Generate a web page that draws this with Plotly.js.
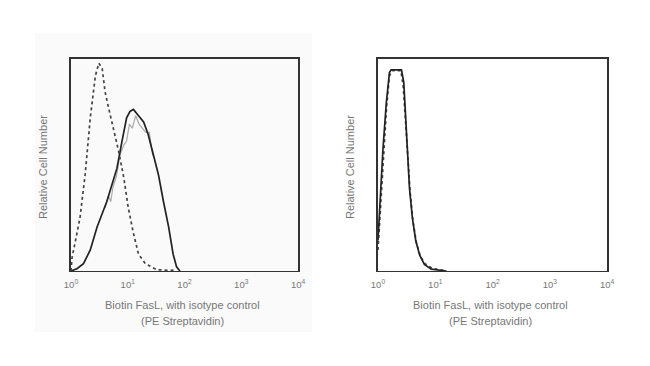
<!DOCTYPE html>
<html><head><meta charset="utf-8">
<script src="https://cdn.plot.ly/plotly-3.0.1.min.js"></script>
<style>html,body{margin:0;padding:0;background:#fff}#chart{width:650px;height:366px}</style>
</head><body><div id="chart"></div>
<script>
// log10 fluorescence positions and relative cell counts
const leftIsoLog = [0.0,0.02,0.08,0.16,0.25,0.34,0.43,0.49,0.55,0.60,0.66,0.75,0.84,0.93,1.01,1.10,1.19,1.31,1.51,1.75,1.86];
const leftIsoVal = [0.0,0.066,0.145,0.256,0.46,0.73,0.93,0.99,0.965,0.855,0.78,0.68,0.57,0.445,0.30,0.18,0.08,0.035,0.006,0.003,0.006];
const leftFasLog = [0.0,0.105,0.22,0.34,0.46,0.545,0.63,0.72,0.81,0.90,0.98,1.04,1.10,1.19,1.28,1.36,1.45,1.54,1.63,1.72,1.80,1.86,1.92];
const leftFasVal = [0.0,0.011,0.035,0.10,0.21,0.27,0.33,0.41,0.49,0.62,0.73,0.76,0.77,0.74,0.71,0.65,0.555,0.46,0.33,0.21,0.08,0.02,0.0];
const leftGrayLog = [0.60,0.66,0.70,0.74,0.80,0.86,0.93,0.98,1.03,1.08,1.14,1.20,1.26,1.32,1.38,1.44];
const leftGrayVal = [0.30,0.36,0.33,0.40,0.45,0.55,0.60,0.62,0.70,0.68,0.74,0.70,0.68,0.66,0.66,0.55];
const rightFasLog = [0.0,0.03,0.087,0.145,0.20,0.23,0.41,0.45,0.48,0.51,0.55,0.60,0.66,0.73,0.81,0.93,1.08,1.19];
const rightFasVal = [0.145,0.30,0.58,0.80,0.945,0.958,0.958,0.90,0.74,0.57,0.395,0.254,0.144,0.074,0.031,0.009,0.003,0.0];
const rightIsoLog = [0.0,0.04,0.09,0.15,0.20,0.25,0.40,0.44,0.48,0.52,0.56,0.61,0.67,0.74,0.82,0.95,1.10,1.20];
const rightIsoVal = [0.10,0.28,0.55,0.78,0.93,0.955,0.955,0.88,0.72,0.55,0.38,0.24,0.135,0.07,0.035,0.012,0.006,0.0];
const tickVals = [1,10,100,1000,10000];
const tickText = ['10<sup>0</sup>','10<sup>1</sup>','10<sup>2</sup>','10<sup>3</sup>','10<sup>4</sup>'];
const xTitle1 = 'Biotin FasL, with isotype control';
const xTitle2 = '(PE Streptavidin)';
const yTitle = 'Relative Cell Number';

const toX = a => a.map(v => Math.pow(10, v));
const traces = [
  {x: toX(leftGrayLog), y: leftGrayVal, xaxis:'x', yaxis:'y', mode:'lines', line:{color:'#aaaaaa', width:1.2}},
  {x: toX(leftFasLog), y: leftFasVal, xaxis:'x', yaxis:'y', mode:'lines', line:{color:'#222', width:1.7}},
  {x: toX(leftIsoLog), y: leftIsoVal, xaxis:'x', yaxis:'y', mode:'lines', line:{color:'#444', width:1.7, dash:'dot'}},
  {x: toX(rightIsoLog), y: rightIsoVal, xaxis:'x2', yaxis:'y2', mode:'lines', line:{color:'#444', width:1.7, dash:'dot'}},
  {x: toX(rightFasLog), y: rightFasVal, xaxis:'x2', yaxis:'y2', mode:'lines', line:{color:'#222', width:1.7}}
];
const xa = dom => ({type:'log', domain:dom, range:[0,4], tickvals:tickVals, ticktext:tickText,
  showgrid:false, zeroline:false, showline:true, mirror:true, linecolor:'#333', linewidth:1.5,
  ticks:'', ticklabelstandoff:4, tickfont:{family:'Liberation Sans, Arial', size:9.5, color:'#777'}});
const ya = anchor => ({domain:[0.2596,0.8388], range:[0,1.01], showgrid:false, zeroline:false,
  showticklabels:false, ticks:'', showline:true, mirror:true, linecolor:'#333', linewidth:1.5, anchor:anchor});
const af = {family:'Liberation Sans, Arial', size:11, color:'#777'};
const ann = (text, x, y, rot) => ({text:text, xref:'paper', yref:'paper', x:x/650, y:1-y/366,
  xanchor:'center', yanchor:'middle', textangle:rot||0, showarrow:false, font:af});
const layout = {
  width:650, height:366, margin:{l:0,r:0,t:0,b:0}, showlegend:false,
  paper_bgcolor:'#fff', plot_bgcolor:'#fff',
  xaxis: Object.assign(xa([0.1092,0.4585]), {anchor:'y'}),
  yaxis: ya('x'),
  xaxis2: Object.assign(xa([0.5815,0.934]), {anchor:'y2'}),
  yaxis2: ya('x2'),
  shapes:[{type:'rect', xref:'paper', yref:'paper', x0:35/650, x1:312/650, y0:1-332/366, y1:1-33/366,
    fillcolor:'#fafafa', line:{width:0}, layer:'below'}],
  annotations:[
    ann(yTitle, 43, 167, -90),
    ann(yTitle, 350, 167, -90),
    ann(xTitle1, 182, 305), ann(xTitle2, 182, 321),
    ann(xTitle1, 490, 305), ann(xTitle2, 490, 321)
  ]
};
Plotly.newPlot('chart', traces, layout, {displayModeBar:false, staticPlot:true});
</script></body></html>
